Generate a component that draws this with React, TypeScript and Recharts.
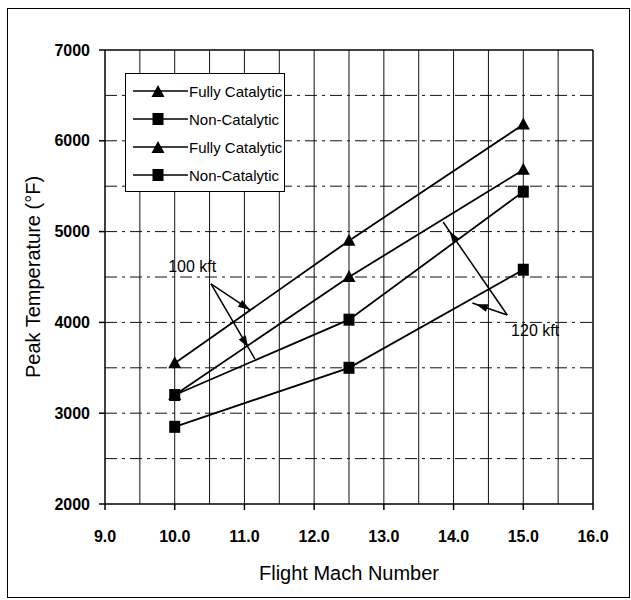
import React from "react";
import {
  LineChart,
  Line,
  XAxis,
  YAxis,
  ReferenceLine,
  ReferenceDot,
} from "recharts";

// Flight Mach number at which each case was run
const mach = [10, 12.5, 15];

// Peak temperature (deg F)
const fullyCat100 = [3550, 4900, 6180];
const nonCat100 = [3200, 4030, 5440];
const fullyCat120 = [3200, 4500, 5680];
const nonCat120 = [2850, 3500, 4580];

const seriesNames = ["Fully Catalytic", "Non-Catalytic", "Fully Catalytic", "Non-Catalytic"];
const seriesKeys = ["fc100", "nc100", "fc120", "nc120"];
const seriesShapes = ["triangle", "square", "triangle", "square"];

const xTicks = [9, 10, 11, 12, 13, 14, 15, 16];
const yTicks = [2000, 3000, 4000, 5000, 6000, 7000];
const xGrid = [9.5, 10, 10.5, 11, 11.5, 12, 12.5, 13, 13.5, 14, 14.5, 15, 15.5];
const yGrid = [2500, 3000, 3500, 4000, 4500, 5000, 5500, 6000, 6500];

const data = mach.map((m, i) => ({
  mach: m,
  fc100: fullyCat100[i],
  nc100: nonCat100[i],
  fc120: fullyCat120[i],
  nc120: nonCat120[i],
}));

// altitude callouts, in data units
const label100 = { x: 10.25, y: 4620, text: "100 kft" };
const label120 = { x: 15.17, y: 3915, text: "120 kft" };
const arrows = [
  { from: { x: 10.52, y: 4423 }, to: { x: 11.08, y: 4137 }, headAt: 1 },
  { from: { x: 10.52, y: 4423 }, to: { x: 11.15, y: 3597 }, headAt: 0.85 },
  { from: { x: 14.77, y: 4082 }, to: { x: 13.85, y: 5106 }, headAt: 0.9 },
  { from: { x: 14.77, y: 4082 }, to: { x: 14.27, y: 4214 }, headAt: 0.9 },
];

const FONT = '"Liberation Sans", Arial, sans-serif';

const Triangle = ({ cx, cy }: { cx: number; cy: number }) => (
  <path d={`M${cx},${cy - 7} L${cx + 6.5},${cy + 5} L${cx - 6.5},${cy + 5} Z`} fill="#000" />
);
const Square = ({ cx, cy }: { cx: number; cy: number }) => (
  <rect x={cx - 5.5} y={cy - 6} width={11} height={12} fill="#000" />
);

const makeDot = (shape: string) => (props: any) => {
  const { cx, cy, index, dataKey } = props;
  const key = `${dataKey}-${index}`;
  if (cx == null || cy == null) return <g key={key} />;
  return (
    <g key={key}>
      {shape === "triangle" ? <Triangle cx={cx} cy={cy} /> : <Square cx={cx} cy={cy} />}
    </g>
  );
};

const arrowShape = (headAt: number) => (props: any) => {
  const { x1, y1, x2, y2 } = props;
  const dx = x2 - x1;
  const dy = y2 - y1;
  const len = Math.hypot(dx, dy) || 1;
  const ux = dx / len;
  const uy = dy / len;
  const tx = x1 + dx * headAt;
  const ty = y1 + dy * headAt;
  const hl = 12;
  const hw = 4;
  const bx = tx - ux * hl;
  const by = ty - uy * hl;
  const pts = `${tx},${ty} ${bx - uy * hw},${by + ux * hw} ${bx + uy * hw},${by - ux * hw}`;
  return (
    <g>
      <line x1={x1} y1={y1} x2={x2} y2={y2} stroke="#000" strokeWidth={1.5} />
      <polygon points={pts} fill="#000" />
    </g>
  );
};

const YLabel = (props: any) => {
  const vb = props.viewBox;
  const x = 33;
  const y = vb.y + vb.height / 2;
  return (
    <text
      x={x}
      y={y}
      dy="0.35em"
      transform={`rotate(-90, ${x}, ${y})`}
      textAnchor="middle"
      fontFamily={FONT}
      fontSize={20}
      fill="#000"
    >
      Peak Temperature (°F)
    </text>
  );
};

const LegendBox = () => (
  <div
    style={{
      position: "absolute",
      left: 125,
      top: 73,
      width: 160,
      height: 119,
      boxSizing: "border-box",
      border: "1.5px solid #000",
      background: "#fff",
      paddingTop: 3,
      fontFamily: FONT,
      fontSize: 15,
      color: "#000",
    }}
  >
    {seriesNames.map((name, i) => (
      <div key={i} style={{ height: 28, display: "flex", alignItems: "center" }}>
        <svg width={55} height={16} style={{ marginLeft: 7, flex: "none" }}>
          <line x1={0} y1={8} x2={55} y2={8} stroke="#000" strokeWidth={1.5} />
          {seriesShapes[i] === "triangle" ? <Triangle cx={25} cy={9} /> : <Square cx={25} cy={8} />}
        </svg>
        <span style={{ marginLeft: 1, whiteSpace: "nowrap" }}>{name}</span>
      </div>
    ))}
  </div>
);

export default function App() {
  const tickStyle = { fill: "#000", fontSize: 16, fontWeight: 700, fontFamily: FONT };
  return (
    <div style={{ position: "absolute", left: 0, top: 0, width: 631, height: 600, background: "#fff" }}>
      <LineChart
        width={631}
        height={600}
        data={data}
        margin={{ top: 50, right: 38, bottom: 16, left: 15 }}
      >
        {xGrid.map((v) => (
          <ReferenceLine key={`vx${v}`} x={v} stroke="#111" strokeWidth={1} />
        ))}
        {yGrid.map((v) => (
          <ReferenceLine key={`hy${v}`} y={v} stroke="#111" strokeWidth={1} strokeDasharray="12 5 3 5" />
        ))}
        <ReferenceLine y={7000} stroke="#000" strokeWidth={1.5} />
        <ReferenceLine x={16} stroke="#000" strokeWidth={1.5} />
        <XAxis
          dataKey="mach"
          type="number"
          domain={[9, 16]}
          ticks={xTicks}
          tickFormatter={(v) => Number(v).toFixed(1)}
          height={80}
          tickSize={6}
          tickMargin={21}
          stroke="#000"
          strokeWidth={1.5}
          tick={tickStyle}
          label={{
            value: "Flight Mach Number",
            position: "insideBottom",
            offset: 4,
            fill: "#000",
            fontSize: 20,
            fontFamily: FONT,
          }}
        />
        <YAxis
          type="number"
          domain={[2000, 7000]}
          ticks={yTicks}
          width={90}
          tickSize={6}
          tickMargin={9}
          stroke="#000"
          strokeWidth={1.5}
          tick={tickStyle}
          label={<YLabel />}
        />
        {seriesKeys.map((k, i) => (
          <Line
            key={k}
            dataKey={k}
            name={seriesNames[i]}
            type="linear"
            stroke="#000"
            strokeWidth={1.8}
            dot={makeDot(seriesShapes[i])}
            activeDot={false}
            isAnimationActive={false}
          />
        ))}
        {arrows.map((a, i) => (
          <ReferenceLine
            key={`arrow${i}`}
            segment={[a.from, a.to]}
            shape={arrowShape(a.headAt)}
          />
        ))}
        {[label100, label120].map((l) => (
          <ReferenceDot
            key={l.text}
            x={l.x}
            y={l.y}
            r={0}
            fill="none"
            stroke="none"
            label={{ value: l.text, position: "center", fill: "#000", fontSize: 16, fontFamily: FONT }}
          />
        ))}
      </LineChart>
      <LegendBox />
      <div
        style={{
          position: "absolute",
          left: 7,
          top: 8,
          width: 623,
          height: 590,
          boxSizing: "border-box",
          border: "1.5px solid #000",
          pointerEvents: "none",
        }}
      />
    </div>
  );
}
